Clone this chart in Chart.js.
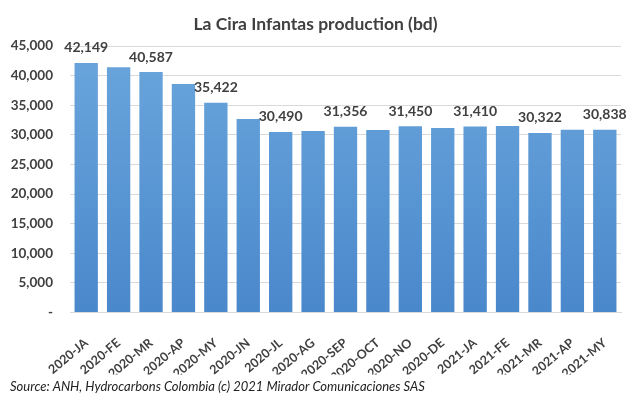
<!DOCTYPE html>
<html>
<head>
<meta charset="utf-8">
<script src="https://cdn.jsdelivr.net/npm/chart.js@4"></script>
<style>
  html, body { margin: 0; padding: 0; background: #fff; }
  #wrap { width: 640px; height: 396px; position: relative; }
</style>
</head>
<body>
<div id="wrap"><canvas id="chart"></canvas></div>
<script>
const months = [
  '2020-JA', '2020-FE', '2020-MR', '2020-AP', '2020-MY', '2020-JN', '2020-JL', '2020-AG', '2020-SEP',
  '2020-OCT', '2020-NO', '2020-DE', '2021-JA', '2021-FE', '2021-MR', '2021-AP', '2021-MY',
];
const production = [
  42149, 41400, 40587, 38600, 35422, 32650, 30490, 30650, 31356,
  30800, 31450, 31150, 31410, 31480, 30322, 30850, 30838,
];
// only every other bar carries a value label
const labelled = [0, 2, 4, 6, 8, 10, 12, 14, 16];
const yTicks = [0, 5000, 10000, 15000, 20000, 25000, 30000, 35000, 40000, 45000];

const textColor = '#404040';
const fontFamily = 'Lato, "Open Sans", sans-serif';

const barLabels = {
  id: 'barLabels',
  afterDatasetsDraw(chart) {
    const { ctx } = chart;
    const meta = chart.getDatasetMeta(0);
    ctx.save();
    ctx.font = `bold 14px ${fontFamily}`;
    ctx.fillStyle = textColor;
    ctx.textAlign = 'center';
    ctx.textBaseline = 'bottom';
    labelled.forEach((i) => {
      const bar = meta.data[i];
      ctx.fillText(production[i].toLocaleString('en-US'), bar.x, bar.y - 8);
    });
    ctx.restore();
  },
};

const barFill = (context) => {
  const { chart } = context;
  const area = chart.chartArea;
  if (!area) return '#5b9bd5';
  const g = chart.ctx.createLinearGradient(0, area.top, 0, area.bottom);
  g.addColorStop(0, '#6aa6dc');
  g.addColorStop(1, '#4a88cc');
  return g;
};

new Chart(document.getElementById('chart'), {
  type: 'bar',
  data: {
    labels: months,
    datasets: [{
      data: production,
      backgroundColor: barFill,
      borderWidth: 0,
      categoryPercentage: 1,
      barPercentage: 0.72,
    }],
  },
  options: {
    responsive: true,
    maintainAspectRatio: false,
    animation: false,
    layout: { padding: { left: 10, right: 19, top: 0, bottom: 1 } },
    plugins: {
      legend: { display: false },
      tooltip: { enabled: false },
      title: {
        display: true,
        text: 'La Cira Infantas production (bd)',
        color: textColor,
        font: { family: fontFamily, size: 17.5, weight: 'bold' },
        padding: { top: 14, bottom: 11 },
      },
      subtitle: {
        display: true,
        position: 'bottom',
        align: 'start',
        text: 'Source: ANH, Hydrocarbons Colombia (c) 2021 Mirador Comunicaciones SAS',
        color: '#222',
        font: { family: fontFamily, size: 13, style: 'italic' },
        padding: { top: 5, bottom: 0 },
      },
    },
    scales: {
      x: {
        grid: { display: false },
        border: { color: '#d9d9d9' },
        afterFit: (axis) => { axis.height = 62; },
        ticks: {
          color: textColor,
          font: { family: fontFamily, size: 12.5, weight: 'bold' },
          maxRotation: 40,
          minRotation: 40,
          padding: 15,
        },
      },
      y: {
        min: 0,
        max: 45000,
        afterBuildTicks: (axis) => { axis.ticks = yTicks.map((v) => ({ value: v })); },
        afterFit: (axis) => { axis.width = 60; },
        grid: { color: '#d9d9d9', drawTicks: false },
        border: { display: false },
        ticks: {
          color: textColor,
          padding: 17,
          font: { family: fontFamily, size: 13.5, weight: 'bold' },
          callback: (v) => (v === 0 ? '-' : v.toLocaleString('en-US')),
        },
      },
    },
  },
  plugins: [barLabels],
});
</script>
</body>
</html>
